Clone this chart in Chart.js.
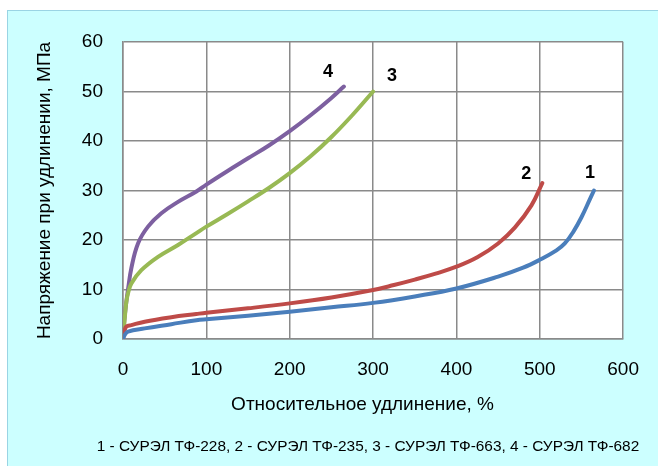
<!DOCTYPE html>
<html>
<head>
<meta charset="utf-8">
<script src="https://cdn.jsdelivr.net/npm/chart.js@4/dist/chart.umd.min.js"></script>
<style>
    html, body { margin: 0; padding: 0; background: #ffffff; }
    #wrap { width: 658px; height: 466px; }
</style>
</head>
<body>
<div id="wrap"><canvas id="stressChart" width="658" height="466"></canvas></div>
<script>
// ---------------------------------------------
// данные: относительное удлинение (%) и напряжение (МПа)
// ---------------------------------------------
var curveNames = ["1", "2", "3", "4"];
var legendNote = "1 - СУРЭЛ ТФ-228, 2 - СУРЭЛ ТФ-235, 3 - СУРЭЛ ТФ-663, 4 - СУРЭЛ ТФ-682";

var elong1 = [0, 2, 6, 26, 58, 88, 100, 150, 200, 250, 300, 350, 400, 450, 480, 500, 520, 530, 540, 550, 560, 565];
var stress1 = [0, 0.8, 1.5, 2.15, 3.0, 3.8, 4.0, 4.7, 5.5, 6.4, 7.3, 8.6, 10.2, 12.6, 14.4, 16, 17.9, 19.3, 21.6, 24.6, 28.2, 30];

var elong2 = [0, 1, 2, 4, 10, 26, 58, 88, 100, 150, 200, 250, 300, 325, 350, 375, 400, 425, 450, 470, 490, 503];
var stress2 = [0, 1.2, 1.8, 2.5, 2.8, 3.5, 4.4, 5.05, 5.3, 6.2, 7.2, 8.4, 9.9, 10.9, 12.0, 13.2, 14.6, 16.5, 19.3, 22.5, 27, 31.5];

var elong3 = [0, 1, 2, 4, 6, 10, 22, 42, 66, 88, 100, 125, 150, 175, 200, 225, 250, 275, 300];
var stress3 = [0, 2, 4, 7.5, 9.2, 11.2, 13.9, 16.6, 19, 21.4, 22.7, 25.2, 27.8, 30.5, 33.5, 36.9, 40.8, 45.2, 50];

var elong4 = [0, 1, 2, 4, 6, 10, 18, 30, 46, 66, 88, 100, 125, 150, 175, 200, 225, 250, 265];
var stress4 = [0, 2.5, 4.5, 7.5, 10, 14.3, 19.3, 22.7, 25.4, 27.7, 29.8, 31.2, 33.9, 36.5, 39.1, 42, 45.2, 48.7, 51];

var xTicks = [0, 100, 200, 300, 400, 500, 600];
var yTicks = [0, 10, 20, 30, 40, 50, 60];

var lineColors = ["#4a7ebb", "#be4b48", "#98b954", "#7d60a0"];

function toPoints(xs, ys) {
    var pts = [];
    for (var i = 0; i < xs.length; i++) {
        pts.push({ x: xs[i], y: ys[i] });
    }
    return pts;
}

var allSeries = [
    toPoints(elong1, stress1),
    toPoints(elong2, stress2),
    toPoints(elong3, stress3),
    toPoints(elong4, stress4),
];

// смещения подписей номеров кривых от конца линии (пиксели)
var tagOffsets = [[-4, -17], [-16, -9], [19, -15], [-16, -15]];

var fontFamily = "'Liberation Sans', Arial, sans-serif";

// фон рисунка и белая область построения
var backgroundPlugin = {
    id: "pageBackground",
    beforeDraw: function(chart) {
        var ctx = chart.ctx;
        var area = chart.chartArea;
        ctx.save();
        ctx.fillStyle = "#ffffff";
        ctx.fillRect(0, 0, chart.width, chart.height);
        ctx.fillStyle = "#ccffff";
        ctx.fillRect(7, 10, chart.width - 7, chart.height - 10);
        ctx.strokeStyle = "#9ad4e4";
        ctx.lineWidth = 1;
        ctx.strokeRect(7.5, 10.5, chart.width, chart.height);
        ctx.fillStyle = "#ffffff";
        ctx.fillRect(area.left, area.top, area.right - area.left, area.bottom - area.top);
        ctx.restore();
    },
};

// номера кривых и подпись под графиком
var labelsPlugin = {
    id: "curveTags",
    afterDatasetsDraw: function(chart) {
        var ctx = chart.ctx;
        var xs = chart.scales.x;
        var ys = chart.scales.y;
        ctx.save();
        ctx.fillStyle = "#000000";
        ctx.font = "bold 18px " + fontFamily;
        ctx.textAlign = "center";
        ctx.textBaseline = "middle";
        for (var i = 0; i < allSeries.length; i++) {
            var last = allSeries[i][allSeries[i].length - 1];
            var px = xs.getPixelForValue(last.x) + tagOffsets[i][0];
            var py = ys.getPixelForValue(last.y) + tagOffsets[i][1];
            ctx.fillText(curveNames[i], px, py);
        }
        ctx.font = "15.4px " + fontFamily;
        ctx.fillText(legendNote, 368, 447);
        ctx.restore();
    },
};

var datasets = [];
for (var k = 0; k < allSeries.length; k++) {
    datasets.push({
        label: curveNames[k],
        data: allSeries[k],
        showLine: true,
        borderColor: lineColors[k],
        backgroundColor: lineColors[k],
        borderWidth: 4,
        pointRadius: 0,
        fill: false,
        tension: 0.4,
        borderCapStyle: "round",
        borderJoinStyle: "round",
    });
}

var gridColor = "#8a8a8a";

new Chart(document.getElementById("stressChart"), {
    type: "scatter",
    data: { datasets: datasets },
    plugins: [backgroundPlugin, labelsPlugin],
    options: {
        responsive: false,
        animation: false,
        devicePixelRatio: 1,
        layout: { padding: { left: 8, top: 42, right: 32, bottom: 0 } },
        plugins: {
            legend: { display: false },
            tooltip: { enabled: false },
        },
        scales: {
            x: {
                type: "linear",
                min: 0,
                max: 600,
                afterBuildTicks: function(scale) {
                    scale.ticks = xTicks.map(function(v) { return { value: v }; });
                },
                afterFit: function(scale) { scale.height = 127; },
                grid: { color: gridColor, lineWidth: 1.5, drawTicks: false },
                border: { color: gridColor, width: 1.5 },
                ticks: {
                    padding: 19,
                    color: "#000000",
                    font: { size: 19, family: fontFamily },
                },
                title: {
                    display: true,
                    text: "Относительное удлинение, %    ",
                    color: "#000000",
                    font: { size: 19, family: fontFamily },
                    padding: { top: 0, bottom: 50 },
                },
            },
            y: {
                type: "linear",
                min: 0,
                max: 60,
                afterBuildTicks: function(scale) {
                    scale.ticks = yTicks.map(function(v) { return { value: v }; });
                },
                afterFit: function(scale) { scale.width = 115; },
                grid: { color: gridColor, lineWidth: 1.5, drawTicks: false },
                border: { color: gridColor, width: 1.5 },
                ticks: {
                    padding: 20,
                    color: "#000000",
                    font: { size: 19, family: fontFamily },
                },
                title: {
                    display: true,
                    text: "Напряжение при удлинении, МПа",
                    color: "#000000",
                    font: { size: 19, family: fontFamily },
                    padding: { top: 25, bottom: 0 },
                },
            },
        },
    },
});
</script>
</body>
</html>
